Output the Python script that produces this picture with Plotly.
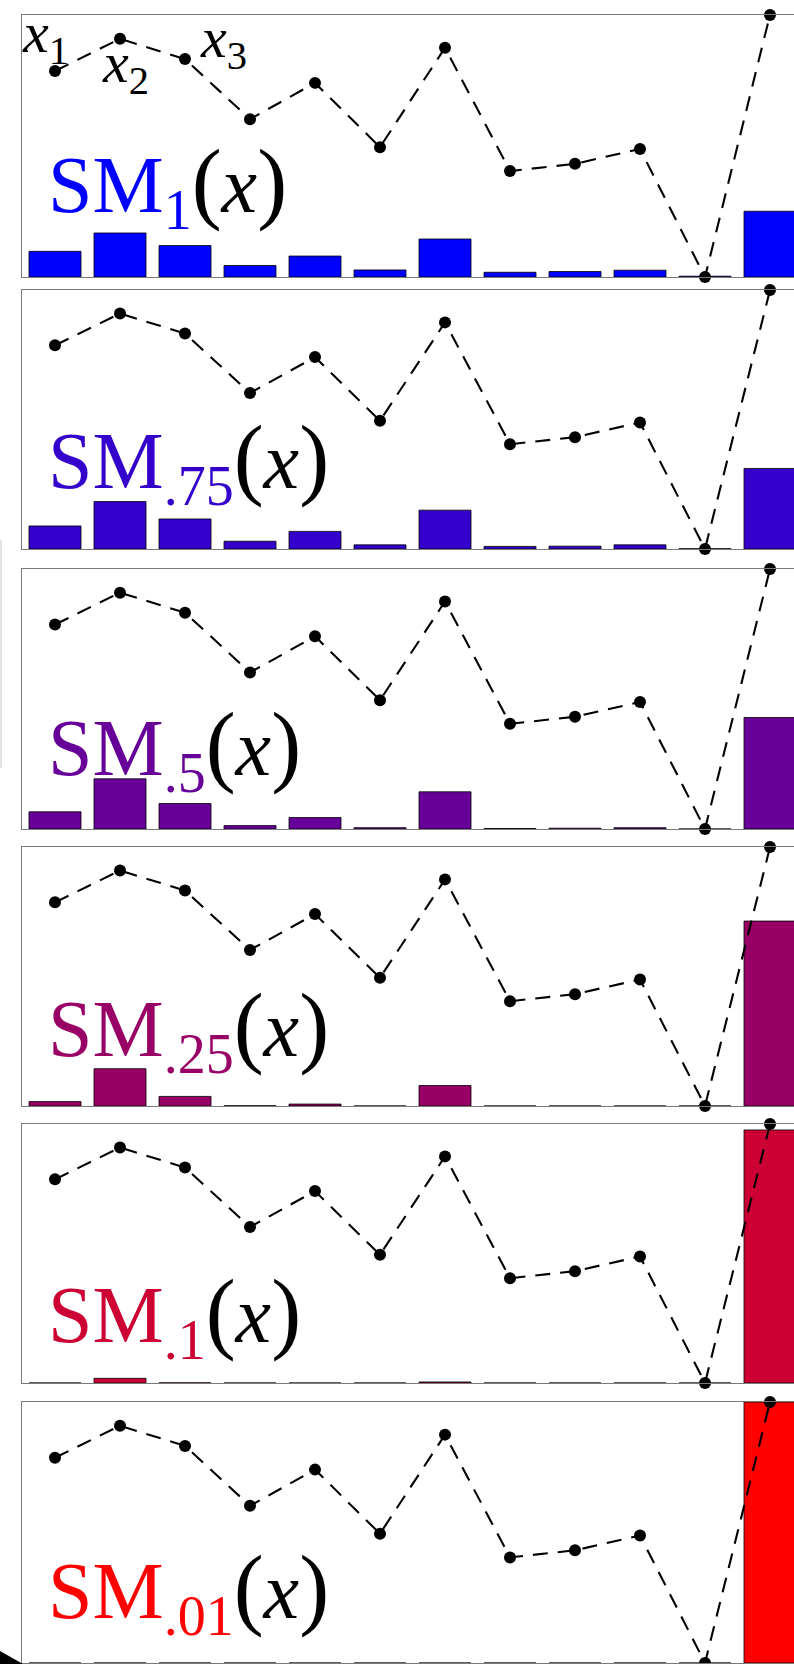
import plotly.graph_objects as go

W, H = 794, 1664

# Element index and the input values drawn as the dashed line
positions = list(range(1, 13))
x_values = [3.46, 4.00, 3.66, 2.65, 3.26, 2.18, 3.85, 1.78, 1.90, 2.15, 0.00, 4.40]

# Softmax outputs at decreasing temperatures (one list per panel)
sm_1 = [0.098, 0.168, 0.120, 0.044, 0.080, 0.027, 0.145, 0.018, 0.021, 0.026, 0.003, 0.251]
sm_75 = [0.089, 0.183, 0.116, 0.030, 0.068, 0.016, 0.150, 0.010, 0.011, 0.016, 0.001, 0.311]
sm_5 = [0.066, 0.193, 0.098, 0.013, 0.044, 0.005, 0.143, 0.002, 0.003, 0.005, 0.0001, 0.429]
sm_25 = [0.017, 0.144, 0.037, 0.001, 0.0075, 0.0001, 0.079, 0.00002, 0.00003, 0.0001, 0.00001, 0.714]
sm_1_10 = [0.0001, 0.018, 0.0006, 0.00001, 0.00001, 0.00001, 0.004, 0.00001, 0.00001, 0.00001, 0.00001, 0.977]
sm_01 = [0.00001] * 11 + [1.0]

temperature_labels = ["1", ".75", ".5", ".25", ".1", ".01"]
series = [sm_1, sm_75, sm_5, sm_25, sm_1_10, sm_01]
bar_colors = ["#0000ff", "#3300cc", "#660099", "#990066", "#cc0033", "#ff0000"]

point_labels = ["1", "2", "3"]

# Panel frames in pixels (top, bottom)
panel_tops = [15, 290, 569, 847, 1124, 1402]
panel_bottoms = [277, 549, 829, 1106, 1383, 1663]
label_centers = [186, 462, 749, 1030, 1316, 1592]

left_px = 22
frame = "#7a7a7a"
serif = "Liberation Serif, DejaVu Serif, serif"

fig = go.Figure()
layout = dict(
    width=W, height=H,
    margin=dict(l=0, r=0, t=0, b=0),
    paper_bgcolor="white", plot_bgcolor="white",
    showlegend=False,
    annotations=[], shapes=[],
)

def py(p):
    return 1 - p / H

x_lo = 1 - (55 - left_px) / 65
x_hi = 1 + (W - 55) / 65

for i, (vals, col, lbl) in enumerate(zip(series, bar_colors, temperature_labels)):
    xa = f"x{i + 1}"
    yb = f"y{2 * i + 1}"
    yl = f"y{2 * i + 2}"
    fig.add_trace(go.Bar(
        x=positions, y=vals, width=0.8,
        marker=dict(color=col, line=dict(color="black", width=0.8)),
        xaxis=xa, yaxis=yb, hoverinfo="skip",
    ))
    fig.add_trace(go.Scatter(
        x=positions, y=x_values, mode="lines+markers",
        line=dict(color="black", width=2.1, dash="15px,10px"),
        marker=dict(size=12, color="black"),
        cliponaxis=False, xaxis=xa, yaxis=yl, hoverinfo="skip",
    ))
    xkey = "xaxis" if i == 0 else f"xaxis{i + 1}"
    layout[xkey] = dict(
        domain=[left_px / W, 1], range=[x_lo, x_hi], anchor=yb,
        showline=True, mirror=True, linecolor=frame, linewidth=1.3,
        showticklabels=False, ticks="", showgrid=False, zeroline=False,
    )
    layout[f"yaxis{2 * i + 1}"] = dict(
        domain=[py(panel_bottoms[i]), py(panel_tops[i])], range=[0, 1], anchor=xa,
        showline=True, linecolor=frame, linewidth=1.3,
        showticklabels=False, ticks="", showgrid=False, zeroline=False,
    )
    layout[f"yaxis{2 * i + 2}"] = dict(
        overlaying=yb, anchor=xa, range=[0, 4.4], visible=False,
        showgrid=False, zeroline=False,
    )
    layout["annotations"].append(dict(
        xref="paper", yref="paper", x=46 / W, y=py(label_centers[i]),
        xanchor="left", yanchor="middle", showarrow=False,
        text=(f"<span style='color:{col}'>SM</span>"
              f"<sub><span style='color:{col}'>{lbl}</span></sub>"
              f"<span style='font-size:90px'>(</span><i>x</i>"
              f"<span style='font-size:90px'>)</span>"),
        font=dict(family=serif, size=80, color="black"),
    ))

# Element labels beside the first three points
for lbl, lx, ly in zip(point_labels, [20, 100, 198], [37, 66, 41]):
    layout["annotations"].append(dict(
        xref="paper", yref="paper", x=lx / W, y=py(ly),
        xanchor="left", yanchor="middle", showarrow=False,
        text=f"<i>x</i><sub>{lbl}</sub>",
        font=dict(family=serif, size=58, color="black"),
    ))

# Arrow tip at the lower-left corner and faint guide on the left edge
layout["shapes"].append(dict(
    type="path", xref="paper", yref="paper",
    path=f"M 0,{py(1651)} L {23 / W},{py(1664)} L 0,{py(1664)} Z",
    fillcolor="black", line=dict(width=0),
))
layout["shapes"].append(dict(
    type="line", xref="paper", yref="paper",
    x0=1 / W, x1=1 / W, y0=py(540), y1=py(768),
    line=dict(color="#e2e2e2", width=2),
))

fig.update_layout(**layout)
fig.write_html("out.html")
